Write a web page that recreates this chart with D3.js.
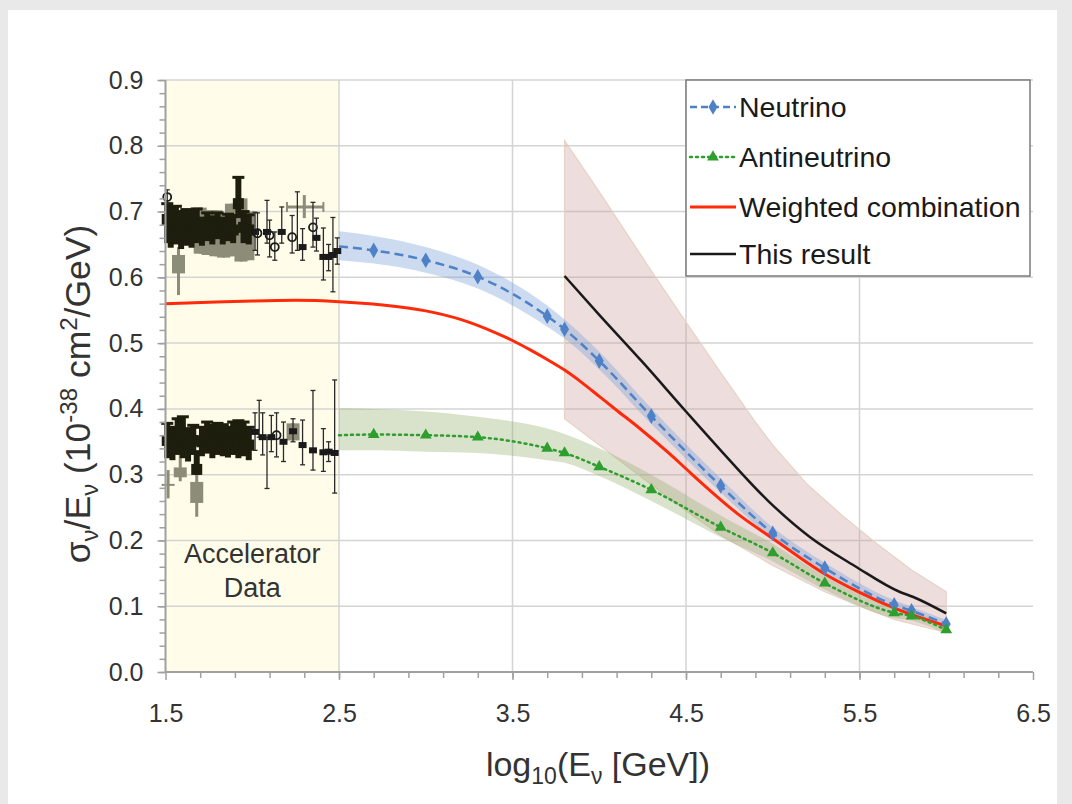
<!DOCTYPE html>
<html>
<head>
<meta charset="utf-8">
<script src="https://cdn.jsdelivr.net/npm/d3@7"></script>
<style>
  html, body { margin: 0; padding: 0; background: #e9e9e9; }
  svg { display: block; }
  text { font-family: "Liberation Sans", Arial, sans-serif; }
</style>
</head>
<body>
<svg id="chart" width="1072" height="804"></svg>
<script>
// ---------------- DATA ----------------
const xTicks = [1.5, 2.5, 3.5, 4.5, 5.5, 6.5];
const yTicks = [0.0, 0.1, 0.2, 0.3, 0.4, 0.5, 0.6, 0.7, 0.8, 0.9];
const accelRange = [1.5, 2.5];
const accelLabel = ["Accelerator", "Data"];

// Neutrino with uncertainty band
const neutrinoX = [2.5, 2.7, 3.0, 3.3, 3.7, 3.8, 4.0, 4.3, 4.7, 5.0, 5.3, 5.7, 5.8, 6.0];
const neutrinoY = [0.647, 0.641, 0.626, 0.601, 0.541, 0.521, 0.473, 0.389, 0.283, 0.211, 0.158, 0.102, 0.093, 0.073];
const neutrinoBandLo = [0.626, 0.621, 0.607, 0.583, 0.525, 0.507, 0.460, 0.377, 0.273, 0.202, 0.150, 0.095, 0.087, 0.067];
const neutrinoBandHi = [0.670, 0.663, 0.646, 0.619, 0.557, 0.536, 0.487, 0.401, 0.294, 0.220, 0.166, 0.109, 0.099, 0.079];

// Antineutrino with uncertainty band
const antiX = [2.5, 2.7, 3.0, 3.3, 3.7, 3.8, 4.0, 4.3, 4.7, 5.0, 5.3, 5.7, 5.8, 6.0];
const antiY = [0.360, 0.361, 0.360, 0.357, 0.340, 0.333, 0.312, 0.277, 0.220, 0.181, 0.135, 0.090, 0.085, 0.064];
const antiBandLo = [0.337, 0.337, 0.335, 0.333, 0.322, 0.318, 0.298, 0.260, 0.205, 0.168, 0.125, 0.082, 0.078, 0.058];
const antiBandHi = [0.401, 0.400, 0.396, 0.388, 0.370, 0.362, 0.340, 0.300, 0.238, 0.195, 0.146, 0.098, 0.092, 0.070];

// Weighted combination
const weightedX = [1.5, 1.75, 2.0, 2.25, 2.5, 2.75, 3.0, 3.2, 3.4, 3.5, 3.6, 3.7, 3.8, 3.9, 4.0, 4.1, 4.23, 4.4, 4.5, 4.6, 4.8, 5.0, 5.3, 5.5, 5.73, 6.0];
const weightedY = [0.560, 0.562, 0.564, 0.565, 0.563, 0.558, 0.549, 0.536, 0.516, 0.504, 0.490, 0.475, 0.459, 0.440, 0.419, 0.398, 0.371, 0.333, 0.309, 0.285, 0.240, 0.203, 0.149, 0.121, 0.094, 0.070];

// This result
const resultX = [3.8, 4.0, 4.25, 4.5, 4.7, 4.97, 5.21, 5.48, 5.73, 5.81, 6.0];
const resultY = [0.602, 0.543, 0.471, 0.396, 0.337, 0.261, 0.206, 0.160, 0.122, 0.114, 0.089];
const resultBandUpX = [3.8, 4.0, 4.3, 4.5, 4.7, 4.9, 5.0, 5.2, 5.4, 5.6, 5.8, 6.0];
const resultBandUpY = [0.808, 0.730, 0.610, 0.532, 0.455, 0.380, 0.345, 0.285, 0.238, 0.195, 0.155, 0.122];
const resultBandLoX = [3.8, 4.0, 4.25, 4.5, 4.7, 5.0, 5.3, 5.5, 5.7, 6.0];
const resultBandLoY = [0.385, 0.345, 0.295, 0.245, 0.208, 0.162, 0.122, 0.100, 0.080, 0.060];

// Accelerator measurements: [x, y, low, high]
const accNuBold = [
  [1.51, 0.688, 0.652, 0.712], [1.53, 0.675, 0.645, 0.705], [1.56, 0.680, 0.650, 0.708],
  [1.59, 0.670, 0.643, 0.700], [1.62, 0.678, 0.648, 0.703], [1.65, 0.672, 0.645, 0.700],
  [1.68, 0.680, 0.652, 0.704], [1.71, 0.668, 0.648, 0.690], [1.74, 0.676, 0.655, 0.698],
  [1.77, 0.672, 0.650, 0.692], [1.80, 0.678, 0.658, 0.698], [1.83, 0.670, 0.650, 0.690],
  [1.86, 0.676, 0.655, 0.696], [1.89, 0.672, 0.652, 0.694], [1.92, 0.712, 0.690, 0.752],
  [1.95, 0.676, 0.652, 0.700], [1.98, 0.672, 0.650, 0.695]
];
// gray boxes: [x, boxLow, boxHigh, lineLow, lineHigh]
const accNuGray = [
  [1.575, 0.606, 0.634, 0.573, 0.646], [1.70, 0.636, 0.706, 0.636, 0.706],
  [1.745, 0.634, 0.702, 0.634, 0.702], [1.79, 0.632, 0.702, 0.632, 0.702],
  [1.835, 0.630, 0.697, 0.630, 0.697], [1.88, 0.632, 0.712, 0.632, 0.712],
  [1.935, 0.624, 0.720, 0.624, 0.720], [1.975, 0.626, 0.700, 0.626, 0.700]
];
// thin points: [x, y, low, high, marker]
const accNuThin = [
  [1.51, 0.722, 0.713, 0.733, "o"], [2.016, 0.669, 0.641, 0.699, "s"], [2.03, 0.667, 0.634, 0.698, "o"],
  [2.085, 0.669, 0.652, 0.717, "s"], [2.10, 0.664, 0.631, 0.687, "o"], [2.13, 0.646, 0.626, 0.669, "o"],
  [2.17, 0.669, 0.652, 0.707, "s"], [2.23, 0.661, 0.637, 0.694, "o"], [2.26, 0.676, 0.641, 0.730, ""],
  [2.29, 0.646, 0.626, 0.674, "s"], [2.35, 0.676, 0.646, 0.714, "o"], [2.37, 0.660, 0.640, 0.690, "s"],
  [2.41, 0.631, 0.596, 0.675, "s"], [2.44, 0.631, 0.610, 0.650, "s"], [2.465, 0.634, 0.578, 0.691, "s"],
  [2.49, 0.640, 0.620, 0.660, "s"]
];
// gray cross: [x, y, xLow, xHigh, yLow, yHigh]
const accNuGrayCross = [[2.30, 0.707, 2.20, 2.41, 0.690, 0.725]];

const accAntiBold = [
  [1.51, 0.352, 0.325, 0.378], [1.54, 0.348, 0.322, 0.372], [1.57, 0.355, 0.330, 0.385],
  [1.60, 0.350, 0.325, 0.388], [1.63, 0.345, 0.320, 0.370], [1.66, 0.352, 0.330, 0.375],
  [1.68, 0.308, 0.300, 0.335], [1.71, 0.350, 0.328, 0.372], [1.74, 0.355, 0.332, 0.380],
  [1.77, 0.348, 0.325, 0.375], [1.80, 0.352, 0.330, 0.378], [1.83, 0.350, 0.328, 0.376],
  [1.86, 0.346, 0.326, 0.372], [1.89, 0.354, 0.330, 0.380], [1.92, 0.350, 0.325, 0.382],
  [1.95, 0.352, 0.328, 0.380], [1.98, 0.345, 0.322, 0.372]
];
const accAntiGray = [
  [1.585, 0.296, 0.311, 0.290, 0.330], [1.68, 0.257, 0.289, 0.236, 0.300],
  [1.515, 0.285, 0.286, 0.264, 0.307], [2.235, 0.352, 0.378, 0.352, 0.378]
];
const accAntiThin = [
  [2.016, 0.365, 0.337, 0.394, "s"], [2.04, 0.395, 0.357, 0.413, ""], [2.06, 0.357, 0.330, 0.394, "s"],
  [2.085, 0.296, 0.279, 0.357, ""], [2.11, 0.357, 0.335, 0.390, "s"], [2.14, 0.360, 0.327, 0.394, "o"],
  [2.18, 0.350, 0.320, 0.380, "s"], [2.235, 0.366, 0.350, 0.385, "s"], [2.29, 0.345, 0.315, 0.383, "s"],
  [2.35, 0.337, 0.307, 0.428, "s"], [2.41, 0.334, 0.305, 0.370, "s"], [2.44, 0.335, 0.320, 0.350, "s"],
  [2.475, 0.333, 0.272, 0.444, "s"]
];

const legendLabels = ["Neutrino", "Antineutrino", "Weighted combination", "This result"];

// ---------------- DRAW ----------------
const W = 1072, H = 804;
const svg = d3.select("#chart");
const M = { left: 165.5, right: 1033, top: 80, bottom: 672 };

const x = d3.scaleLinear().domain([1.5, 6.5]).range([M.left, M.right]);
const y = d3.scaleLinear().domain([0, 0.9]).range([M.bottom, M.top]);

const C = {
  blue: "#4f81c7", green: "#2e9e2e", red: "#ff2a0a", black: "#1a1a1a",
  grid: "#d4d4d4", axis: "#a0a0a0", text: "#333333",
  accBlack: "#1e1e0e", accGray: "#8c8c78"
};

// background frame
svg.append("rect").attr("x", 0).attr("y", 0).attr("width", W).attr("height", H).attr("fill", "#e9e9e9");
svg.append("rect").attr("x", 8).attr("y", 10).attr("width", 1049).attr("height", H - 10).attr("fill", "#ffffff");

// accelerator region
svg.append("rect")
  .attr("x", x(accelRange[0])).attr("y", y(0.9))
  .attr("width", x(accelRange[1]) - x(accelRange[0]))
  .attr("height", y(0) - y(0.9))
  .attr("fill", "#fffde9");

// grid
const grid = svg.append("g");
grid.selectAll("line.h").data(yTicks.filter(d => d > 0)).join("line")
  .attr("x1", x(1.5)).attr("x2", x(6.5))
  .attr("y1", d => y(d)).attr("y2", d => y(d))
  .attr("stroke", C.grid).attr("stroke-width", 1.5);
grid.selectAll("line.v").data(xTicks.filter(d => d > 1.5 && d < 6.5)).join("line")
  .attr("x1", d => x(d)).attr("x2", d => x(d))
  .attr("y1", y(0)).attr("y2", y(0.9))
  .attr("stroke", C.grid).attr("stroke-width", 1.5);

// accelerator label
svg.append("g").selectAll("text").data(accelLabel).join("text")
  .attr("x", x(2.0)).attr("y", (d, i) => 563 + i * 34)
  .attr("text-anchor", "middle").attr("font-size", 27).attr("fill", C.text)
  .text(d => d);

// bands
const zipBand = (xs, lo, hi) => xs.map((v, i) => ({ x: v, lo: lo[i], hi: hi[i] }));
const areaSmooth = d3.area().x(d => x(d.x)).y0(d => y(d.lo)).y1(d => y(d.hi)).curve(d3.curveMonotoneX);

// This result band (polygon)
const pinkPts = resultBandUpX.map((v, i) => [x(v), y(resultBandUpY[i])])
  .concat(resultBandLoX.map((v, i) => [x(v), y(resultBandLoY[i])]).reverse());
svg.append("path")
  .attr("d", d3.line()(pinkPts) + "Z")
  .attr("fill", "rgb(200,150,150)").attr("fill-opacity", 0.32)
  .attr("stroke", "#e6d3c4").attr("stroke-width", 1.2);

svg.append("path").datum(zipBand(neutrinoX, neutrinoBandLo, neutrinoBandHi))
  .attr("d", areaSmooth).attr("fill", "rgb(120,160,215)").attr("fill-opacity", 0.38);
svg.append("path").datum(zipBand(antiX, antiBandLo, antiBandHi))
  .attr("d", areaSmooth).attr("fill", "rgb(150,175,110)").attr("fill-opacity", 0.36);

// accelerator data
const acc = svg.append("g");
function drawGray(g, data) {
  data.forEach(d => {
    g.append("line").attr("x1", x(d[0])).attr("x2", x(d[0]))
      .attr("y1", y(d[3])).attr("y2", y(d[4]))
      .attr("stroke", C.accGray).attr("stroke-width", 3);
    g.append("rect").attr("x", x(d[0]) - 6.5).attr("width", 13)
      .attr("y", y(d[2])).attr("height", Math.max(2, y(d[1]) - y(d[2])))
      .attr("fill", C.accGray);
  });
}
function drawBold(g, data) {
  data.forEach(d => {
    g.append("line").attr("x1", x(d[0])).attr("x2", x(d[0]))
      .attr("y1", y(d[2])).attr("y2", y(d[3]))
      .attr("stroke", C.accBlack).attr("stroke-width", 6);
    g.append("line").attr("x1", x(d[0]) - 6).attr("x2", x(d[0]) + 6)
      .attr("y1", y(d[3])).attr("y2", y(d[3]))
      .attr("stroke", C.accBlack).attr("stroke-width", 3);
    g.append("rect").attr("x", x(d[0]) - 5.5).attr("y", y(d[1]) - 5.5)
      .attr("width", 11).attr("height", 11).attr("fill", C.accBlack);
  });
}
function drawThin(g, data) {
  data.forEach(d => {
    g.append("line").attr("x1", x(d[0])).attr("x2", x(d[0]))
      .attr("y1", y(d[2])).attr("y2", y(d[3]))
      .attr("stroke", "#2a2a2a").attr("stroke-width", 1.3);
    [d[2], d[3]].forEach(v => g.append("line")
      .attr("x1", x(d[0]) - 2.5).attr("x2", x(d[0]) + 2.5)
      .attr("y1", y(v)).attr("y2", y(v))
      .attr("stroke", "#2a2a2a").attr("stroke-width", 1.3));
    if (d[4] === "o") {
      g.append("circle").attr("cx", x(d[0])).attr("cy", y(d[1])).attr("r", 4)
        .attr("fill", "none").attr("stroke", "#1a1a1a").attr("stroke-width", 1.8);
    } else if (d[4] === "s") {
      g.append("rect").attr("x", x(d[0]) - 4).attr("y", y(d[1]) - 3)
        .attr("width", 8).attr("height", 6).attr("fill", "#1a1a1a");
    }
  });
}
drawGray(acc, accNuGray);
drawGray(acc, accAntiGray);
accNuGrayCross.forEach(d => {
  acc.append("line").attr("x1", x(d[2])).attr("x2", x(d[3])).attr("y1", y(d[1])).attr("y2", y(d[1]))
    .attr("stroke", C.accGray).attr("stroke-width", 3);
  acc.append("line").attr("x1", x(d[0])).attr("x2", x(d[0])).attr("y1", y(d[4])).attr("y2", y(d[5]))
    .attr("stroke", C.accGray).attr("stroke-width", 3);
  [d[2], d[3]].forEach(v => acc.append("line").attr("x1", x(v)).attr("x2", x(v))
    .attr("y1", y(d[1]) - 5).attr("y2", y(d[1]) + 5).attr("stroke", C.accGray).attr("stroke-width", 2));
});
drawBold(acc, accNuBold);
drawBold(acc, accAntiBold);
drawThin(acc, accNuThin);
drawThin(acc, accAntiThin);

// lines
const lineSmooth = d3.line().x(d => x(d[0])).y(d => y(d[1])).curve(d3.curveMonotoneX);
const zip = (xs, ys) => xs.map((v, i) => [v, ys[i]]);

svg.append("path").datum(zip(weightedX, weightedY)).attr("d", lineSmooth)
  .attr("fill", "none").attr("stroke", C.red).attr("stroke-width", 3);
svg.append("path").datum(zip(neutrinoX, neutrinoY)).attr("d", lineSmooth)
  .attr("fill", "none").attr("stroke", C.blue).attr("stroke-width", 2.5).attr("stroke-dasharray", "9,5");
svg.append("path").datum(zip(antiX, antiY)).attr("d", lineSmooth)
  .attr("fill", "none").attr("stroke", C.green).attr("stroke-width", 2.5)
  .attr("stroke-dasharray", "2,4").attr("stroke-linecap", "round");
svg.append("path").datum(zip(resultX, resultY)).attr("d", lineSmooth)
  .attr("fill", "none").attr("stroke", C.black).attr("stroke-width", 2.5);

const diamond = d3.symbol().type(d3.symbolDiamond).size(70);
const tri = d3.symbol().type(d3.symbolTriangle).size(60);
svg.append("g").selectAll("path").data(zip(neutrinoX, neutrinoY).slice(1)).join("path")
  .attr("d", diamond).attr("transform", d => `translate(${x(d[0])},${y(d[1])})`).attr("fill", C.blue);
svg.append("g").selectAll("path").data(zip(antiX, antiY).slice(1)).join("path")
  .attr("d", tri).attr("transform", d => `translate(${x(d[0])},${y(d[1])})`).attr("fill", C.green);

// axes
const fmt = d3.format(".1f");
const yAxis = svg.append("g").attr("transform", `translate(${M.left},0)`)
  .call(d3.axisLeft(y).tickValues(yTicks).tickFormat(fmt).tickSize(8).tickPadding(14));
const yMinor = svg.append("g").attr("transform", `translate(${M.left},0)`)
  .call(d3.axisLeft(y).tickValues(y.ticks(45)).tickFormat("").tickSize(6));
const xAxis = svg.append("g").attr("transform", `translate(0,${M.bottom})`)
  .call(d3.axisBottom(x).tickValues(xTicks).tickFormat(fmt).tickSize(8).tickPadding(24));
const xMinor = svg.append("g").attr("transform", `translate(0,${M.bottom})`)
  .call(d3.axisBottom(x).tickValues(d3.range(1.7, 6.45, 0.2)).tickFormat("").tickSize(6));

[yAxis, yMinor, xAxis, xMinor].forEach(a => {
  a.select(".domain").remove();
  a.selectAll(".tick line").attr("stroke", C.axis).attr("stroke-width", 1.5);
  a.selectAll("text").attr("font-size", 25).attr("fill", C.text)
    .attr("font-family", "'Liberation Sans', Arial, sans-serif");
});
svg.append("line").attr("x1", M.left).attr("x2", M.left).attr("y1", M.top).attr("y2", M.bottom)
  .attr("stroke", C.axis).attr("stroke-width", 2);
svg.append("line").attr("x1", M.left).attr("x2", M.right).attr("y1", M.bottom).attr("y2", M.bottom)
  .attr("stroke", C.axis).attr("stroke-width", 2);

// axis titles
const xt = svg.append("text").attr("x", 598).attr("y", 776).attr("text-anchor", "middle")
  .attr("font-size", 34).attr("fill", C.text);
xt.append("tspan").text("log");
xt.append("tspan").attr("font-size", 23).attr("dy", 8).text("10");
xt.append("tspan").attr("dy", -8).text("(E");
xt.append("tspan").attr("font-size", 23).attr("dy", 8).text("ν");
xt.append("tspan").attr("dy", -8).text(" [GeV])");

const yt = svg.append("text").attr("transform", "translate(90,394) rotate(-90)")
  .attr("text-anchor", "middle").attr("font-size", 35.5).attr("fill", C.text);
yt.append("tspan").text("σ");
yt.append("tspan").attr("font-size", 24).attr("dy", 8).text("ν");
yt.append("tspan").attr("dy", -8).text("/E");
yt.append("tspan").attr("font-size", 24).attr("dy", 8).text("ν");
yt.append("tspan").attr("dy", -8).text(" (10");
yt.append("tspan").attr("font-size", 24).attr("dy", -13).text("-38");
yt.append("tspan").attr("dy", 13).text(" cm");
yt.append("tspan").attr("font-size", 24).attr("dy", -13).text("2");
yt.append("tspan").attr("dy", 13).text("/GeV)");

// legend
const lg = svg.append("g");
lg.append("rect").attr("x", 686).attr("y", 80).attr("width", 344).attr("height", 196)
  .attr("fill", "#ffffff").attr("stroke", "#7a7a7a").attr("stroke-width", 1.5);
const ly = [107, 157, 207, 254];
const lx1 = 690, lx2 = 736;
lg.append("line").attr("x1", lx1).attr("x2", lx2).attr("y1", ly[0]).attr("y2", ly[0])
  .attr("stroke", C.blue).attr("stroke-width", 2.5).attr("stroke-dasharray", "7,4");
lg.append("path").attr("d", diamond).attr("transform", `translate(${(lx1 + lx2) / 2},${ly[0]})`).attr("fill", C.blue);
lg.append("line").attr("x1", lx1).attr("x2", lx2).attr("y1", ly[1]).attr("y2", ly[1])
  .attr("stroke", C.green).attr("stroke-width", 2.5).attr("stroke-dasharray", "2,4").attr("stroke-linecap", "round");
lg.append("path").attr("d", tri).attr("transform", `translate(${(lx1 + lx2) / 2},${ly[1]})`).attr("fill", C.green);
lg.append("line").attr("x1", lx1).attr("x2", lx2).attr("y1", ly[2]).attr("y2", ly[2])
  .attr("stroke", C.red).attr("stroke-width", 3);
lg.append("line").attr("x1", lx1).attr("x2", lx2).attr("y1", ly[3]).attr("y2", ly[3])
  .attr("stroke", C.black).attr("stroke-width", 2.5);
lg.selectAll("text").data(legendLabels).join("text")
  .attr("x", 739).attr("y", (d, i) => ly[i]).attr("dy", "0.36em")
  .attr("font-size", 28.5).attr("fill", "#1a1a1a").text(d => d);
</script>
</body>
</html>
